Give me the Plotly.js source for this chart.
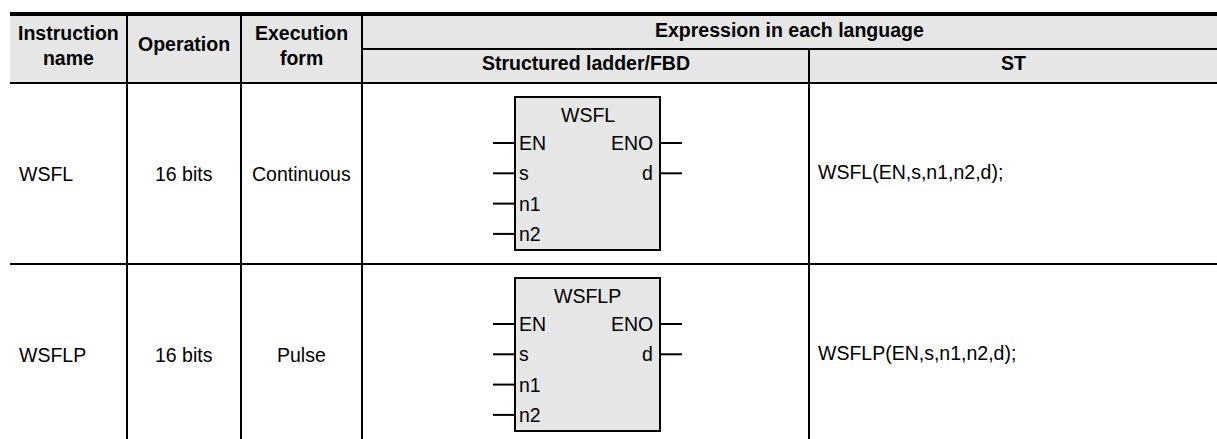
<!DOCTYPE html>
<html><head><meta charset="utf-8">
<script src="https://cdn.plot.ly/plotly-3.0.1.min.js"></script>
<style>html,body{margin:0;padding:0;background:#fff;}#chart{width:1217px;height:439px;}</style>
</head><body><div id="chart"></div>
<script>
// ---- data ----
const instructionNames = ['WSFL', 'WSFLP'];
const operations = ['16 bits', '16 bits'];
const executionForms = ['Continuous', 'Pulse'];
const stExpressions = ['WSFL(EN,s,n1,n2,d);', 'WSFLP(EN,s,n1,n2,d);'];
const inputPins = ['EN', 's', 'n1', 'n2'];
const outputPins = ['ENO', 'd'];
const headerMain = ['Instruction<br>name', 'Operation', 'Execution<br>form', 'Expression in each language'];
const headerSub = ['Structured ladder/FBD', 'ST'];

// ---- layout constants ----
const W = 1217, H = 439;
const colX = [10, 127, 241, 362, 809, 1217];
const yTop = 14, ySub = 49, yHead = 83, rowH = 181;
const FONT = 'Arial, "Liberation Sans", sans-serif';
const FS = 19.5;
const GREY = '#e6e6e6';
const box = {left: 515, right: 660, top: 14, bottom: 167, title: 32, pin0: 60, pinStep: 30.3, stub: 22};

const shapes = [], ann = [];
function line(x0, y0, x1, y1, w) {
  shapes.push({type: 'line', xref: 'x', yref: 'y', x0, y0, x1, y1, line: {color: '#000', width: w || 2}});
}
function rect(x0, y0, x1, y1, fill, lw) {
  shapes.push({type: 'rect', xref: 'x', yref: 'y', x0, y0, x1, y1, fillcolor: fill,
    line: {color: lw ? '#000' : 'rgba(0,0,0,0)', width: lw || 0}});
}
function text(t, x, y, xa, bold, size) {
  ann.push({text: bold ? '<b>' + t + '</b>' : t, x, y, xref: 'x', yref: 'y', xanchor: xa || 'center',
    yanchor: 'middle', showarrow: false, align: 'center',
    font: {family: FONT, size: size || FS, color: '#000'}});
}

// header background
rect(colX[0], yTop, W, yHead, GREY, 0);

// rows
instructionNames.forEach((nm, i) => {
  const top = yHead + i * rowH, cy = top + rowH / 2;
  text(nm, colX[0] + 7, cy, 'left');
  text(operations[i], (colX[1] + colX[2]) / 2, cy);
  text(executionForms[i], (colX[2] + colX[3]) / 2, cy);
  text(stExpressions[i], colX[4] + 7, cy - 2, 'left');
  // FBD block
  rect(box.left, top + box.top, box.right, top + box.bottom, GREY, 2);
  text(nm, (box.left + box.right) / 2, top + box.title);
  inputPins.forEach((p, k) => {
    const y = top + box.pin0 + k * box.pinStep;
    line(box.left - box.stub, y, box.left, y, 2);
    text(p, box.left + 2, y, 'left');
  });
  outputPins.forEach((p, k) => {
    const y = top + box.pin0 + k * box.pinStep;
    line(box.right, y, box.right + box.stub, y, 2);
    text(p, box.right - 5, y, 'right');
  });
  if (i > 0) line(colX[0], top, W, top, 2);
});

// header text
const hMid = (yTop + yHead) / 2;
text(headerMain[0], (colX[0] + colX[1]) / 2, hMid - 3, 'center', true);
text(headerMain[1], (colX[1] + colX[2]) / 2, hMid - 5, 'center', true);
text(headerMain[2], (colX[2] + colX[3]) / 2, hMid - 3, 'center', true);
text(headerMain[3], (colX[3] + W) / 2, (yTop + ySub) / 2 - 2, 'center', true);
text(headerSub[0], (colX[3] + colX[4]) / 2, (ySub + yHead) / 2 - 3, 'center', true);
text(headerSub[1], (colX[4] + W) / 2, (ySub + yHead) / 2 - 3, 'center', true);

// grid lines
line(colX[0], yTop, W, yTop, 4);
line(colX[3], ySub, W, ySub, 2);
line(colX[0], yHead, W, yHead, 2);
[colX[1], colX[2], colX[3]].forEach(x => line(x, yTop, x, H + 5, 2));
line(colX[4], ySub, colX[4], H + 5, 2);

Plotly.newPlot('chart', [], {
  width: W, height: H,
  margin: {l: 0, r: 0, t: 0, b: 0},
  paper_bgcolor: '#fff', plot_bgcolor: '#fff',
  xaxis: {range: [0, W], visible: false, fixedrange: true},
  yaxis: {range: [H, 0], visible: false, fixedrange: true},
  shapes: shapes, annotations: ann, showlegend: false
}, {displayModeBar: false, staticPlot: true});
</script></body></html>
